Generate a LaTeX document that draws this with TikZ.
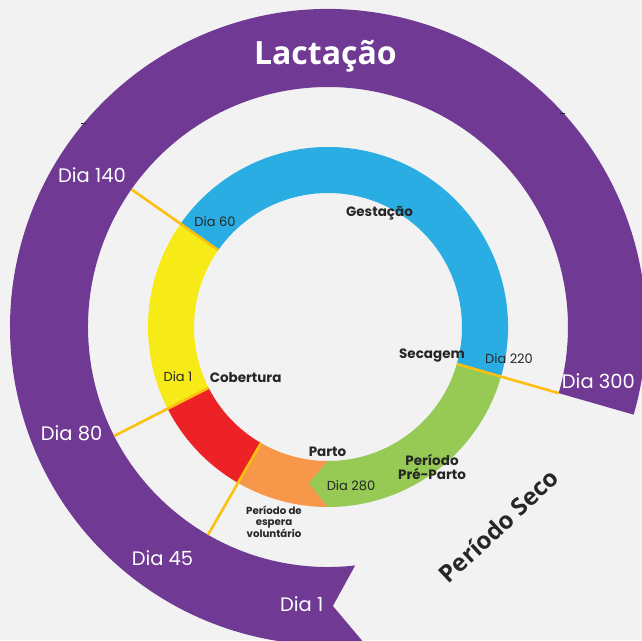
\documentclass[tikz,border=0pt]{standalone}
\usepackage{fontspec}
\setmainfont{Poppins}
\newfontfamily\opensans{Open Sans}

\definecolor{lactpurple}{HTML}{6F3994}
\definecolor{gestblue}{HTML}{29ADE3}
\definecolor{cobyellow}{HTML}{F6EB16}
\definecolor{pevred}{HTML}{EC2227}
\definecolor{partoorange}{HTML}{F7974A}
\definecolor{prepgreen}{HTML}{97C955}
\definecolor{divline}{HTML}{FDC010}
\definecolor{bggray}{HTML}{F2F2F2}
\definecolor{inktext}{HTML}{262626}

\tikzset{
  dayout/.style={text=white, font=\fontsize{19.5}{21}\selectfont},
  dayin/.style={text=inktext, font=\fontsize{13}{14.5}\selectfont},
  phase/.style={text=inktext, font=\bfseries\fontsize{13.5}{14}\selectfont, align=center},
  divider/.style={divline, line width=2.6pt},
}

\begin{document}
\begin{tikzpicture}[x=1pt,y=1pt]
	\fill[bggray] (-328,-313) rectangle (314,327);
	\clip (-328,-313) rectangle (314,327);

	% lactation ring
	\fill[lactpurple] (-16:318) arc[start angle=-16, end angle=276.5, radius=318] -- (271:279) -- (276.5:240) arc[start angle=276.5, end angle=-16, radius=240] -- cycle;
	\draw[inktext, line width=0.8pt] (-246.5,204) -- (-241.5,204);
	\draw[inktext, line width=0.8pt] (231.5,214) -- (236.5,214);

	% cycle ring
	\fill[gestblue] (-16:180) arc[start angle=-16, end angle=145, radius=180] -- (145:134) arc[start angle=145, end angle=-16, radius=134] -- cycle;
	\fill[cobyellow] (145:180) arc[start angle=145, end angle=207, radius=180] -- (207:134) arc[start angle=207, end angle=145, radius=134] -- cycle;
	\fill[pevred] (207:180) arc[start angle=207, end angle=240, radius=180] -- (240:134) arc[start angle=240, end angle=207, radius=134] -- cycle;
	\fill[partoorange] (240:180) arc[start angle=240, end angle=271, radius=180] -- (271:134) arc[start angle=271, end angle=240, radius=134] -- cycle;
	\fill[prepgreen] (-16:180) arc[start angle=-16, end angle=-90, radius=180] -- (-97:157) -- (-90:134) arc[start angle=-90, end angle=-16, radius=134] -- cycle;

	% dividers
	\draw[divider] (145:134) -- (145:240);
	\draw[divider] (207:134) -- (207:240);
	\draw[divider] (240:134) -- (240:240);
	\draw[divider] (-16:134) -- (-16:240);

	% outer labels
	\node[text=white, font=\opensans\bfseries\fontsize{32}{34}\selectfont] (lact) at (-2.6,271) {Lactação};
	\node[dayout] (d140) at (-236,152) {Dia 140};
	\node[dayout] (d80) at (-256.4,-106) {Dia 80};
	\node[dayout] (d45) at (-165.5,-231) {Dia 45};
	\node[dayout] (d1out) at (-26.3,-277) {Dia 1};
	\node[dayout] (d300) at (270.4,-54) {Dia 300};
	\node[text=inktext, rotate=43, font=\opensans\bfseries\fontsize{24}{26}\selectfont] (seco) at (170.6,-199) {Período Seco};

	% inner labels
	\node[phase] (gest) at (51.5,113.3) {Gestação};
	\node[dayin] (d60) at (-113,105) {Dia 60};
	\node[phase] (sec) at (104,-29) {Secagem};
	\node[dayin] (d220) at (181,-31.6) {Dia 220};
	\node[dayin] (d1in) at (-150,-50) {Dia 1};
	\node[phase] (cob) at (-82.4,-51) {Cobertura};
	\node[phase] (parto) at (-0.5,-125) {Parto};
	\node[phase] (prep) at (104,-140) {Período\\Pré-Parto};
	\node[dayin] (d280) at (23,-159) {Dia 280};
	\node[text=inktext, font=\bfseries\fontsize{10.2}{11}\selectfont, align=center] (pev) at (-54,-195) {Período de\\espera\\voluntário};
\end{tikzpicture}
\end{document}
